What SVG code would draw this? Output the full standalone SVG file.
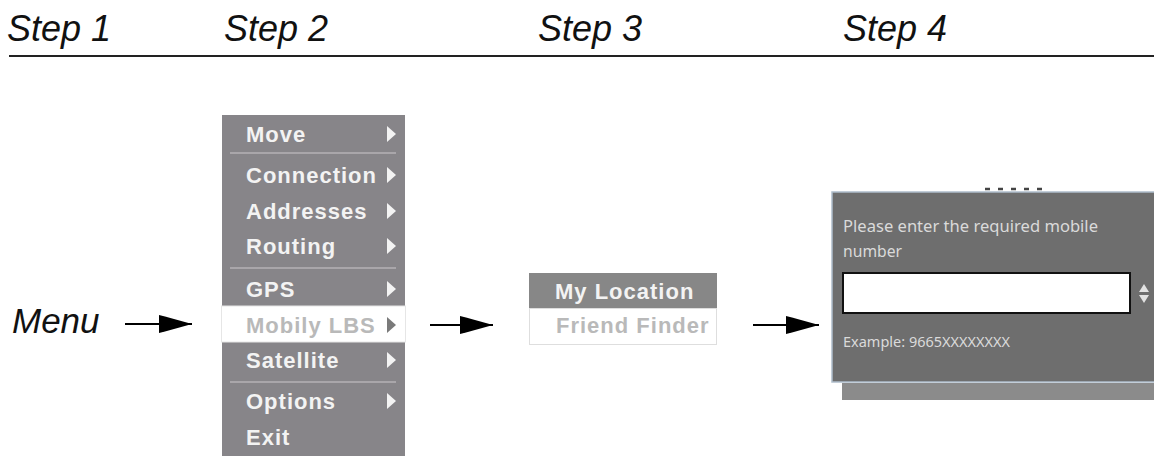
<svg xmlns="http://www.w3.org/2000/svg" width="1154" height="456" viewBox="0 0 1154 456">
<style>
.step{font-family:"Liberation Sans",Arial,sans-serif;font-style:italic;font-size:36px;fill:#111}
.mi{font-family:"Liberation Sans",Arial,sans-serif;font-weight:bold;font-size:22px;letter-spacing:1px;fill:#f3f3f3}
.dim{fill:#b9b9b9}
.sep{stroke:#b4b2b6;stroke-width:1.5}
.tri{fill:#f3f3f3}
.dlg{font-family:"Noto Sans","Open Sans",sans-serif;font-size:16px;fill:#dadada}
.conn{stroke:#000;stroke-width:2.2;fill:none;marker-end:url(#ah)}
</style>
<defs>
<marker id="ah" markerUnits="userSpaceOnUse" markerWidth="34" markerHeight="20" viewBox="0 0 34 20" refX="33" refY="10" orient="auto">
<path d="M0,1 L6,2.5 L33,10 L6,17.5 L0,19 Z" fill="#000"/>
</marker>
</defs>
<rect width="1154" height="456" fill="#fff"/>
<g id="header">
<text class="step" x="7" y="41">Step 1</text>
<text class="step" x="224" y="41">Step 2</text>
<text class="step" x="538" y="41">Step 3</text>
<text class="step" x="843" y="41">Step 4</text>
<line x1="9" y1="56" x2="1154" y2="56" stroke="#222" stroke-width="2"/>
</g>
<g id="menu-label">
<text class="step" x="12" y="333" style="font-size:35px">Menu</text>
</g>
<g id="main-menu">
<rect x="222" y="115" width="183" height="341" fill="#878589"/>
<rect x="221.5" y="306" width="184" height="36" fill="#fff" stroke="#e6e6e6" stroke-width="1"/>
<line class="sep" x1="230" y1="153" x2="396" y2="153"/>
<line class="sep" x1="230" y1="268" x2="396" y2="268"/>
<line class="sep" x1="230" y1="382" x2="396" y2="382"/>
<text class="mi" x="246" y="142">Move</text>
<text class="mi" x="246" y="183">Connection</text>
<text class="mi" x="246" y="219">Addresses</text>
<text class="mi" x="246" y="254">Routing</text>
<text class="mi" x="246" y="297">GPS</text>
<text class="mi dim" x="246" y="333">Mobily LBS</text>
<text class="mi" x="246" y="368">Satellite</text>
<text class="mi" x="246" y="409">Options</text>
<text class="mi" x="246" y="445">Exit</text>
<polygon class="tri" points="387,126 396,134 387,142"/>
<polygon class="tri" points="387,167 396,175 387,183"/>
<polygon class="tri" points="387,203 396,211 387,219"/>
<polygon class="tri" points="387,238 396,246 387,254"/>
<polygon class="tri" points="387,281 396,289 387,297"/>
<polygon points="387,317 396,325 387,333" fill="#7a7a7a"/>
<polygon class="tri" points="387,352 396,360 387,368"/>
<polygon class="tri" points="387,393 396,401 387,409"/>
</g>
<g id="sub-menu">
<rect x="529" y="273" width="188" height="35" fill="#878787"/>
<rect x="529.5" y="308.5" width="187" height="36" fill="#fff" stroke="#dedede" stroke-width="1"/>
<text class="mi" x="555" y="299">My Location</text>
<text class="mi dim" x="556" y="333">Friend Finder</text>
</g>
<g id="dialog">
<rect x="842" y="383" width="312" height="17" fill="#8b8b8b"/>
<rect x="832" y="192" width="330" height="190" fill="#6e6e6e" stroke="#aebdcb" stroke-width="1.5"/>
<line x1="985" y1="189" x2="1050" y2="189" stroke="#444" stroke-width="2.5" stroke-dasharray="5,8"/>
<text class="dlg" x="843" y="232" textLength="255" lengthAdjust="spacingAndGlyphs">Please enter the required mobile</text>
<text class="dlg" x="843" y="257" textLength="59" lengthAdjust="spacingAndGlyphs">number</text>
<rect x="843" y="273" width="287" height="40" fill="#fff" stroke="#111" stroke-width="2"/>
<polygon points="1139,292 1149,292 1144,284" fill="#e2e2e2"/>
<polygon points="1139,295 1149,295 1144,303" fill="#e2e2e2"/>
<text class="dlg" x="843" y="347" style="font-size:14px" textLength="167" lengthAdjust="spacingAndGlyphs">Example: 9665XXXXXXXX</text>
</g>
<g id="connectors">
<line class="conn" x1="125" y1="324" x2="192" y2="324"/>
<line class="conn" x1="430" y1="325" x2="493" y2="325"/>
<line class="conn" x1="753" y1="325" x2="819" y2="325"/>
</g>
</svg>
